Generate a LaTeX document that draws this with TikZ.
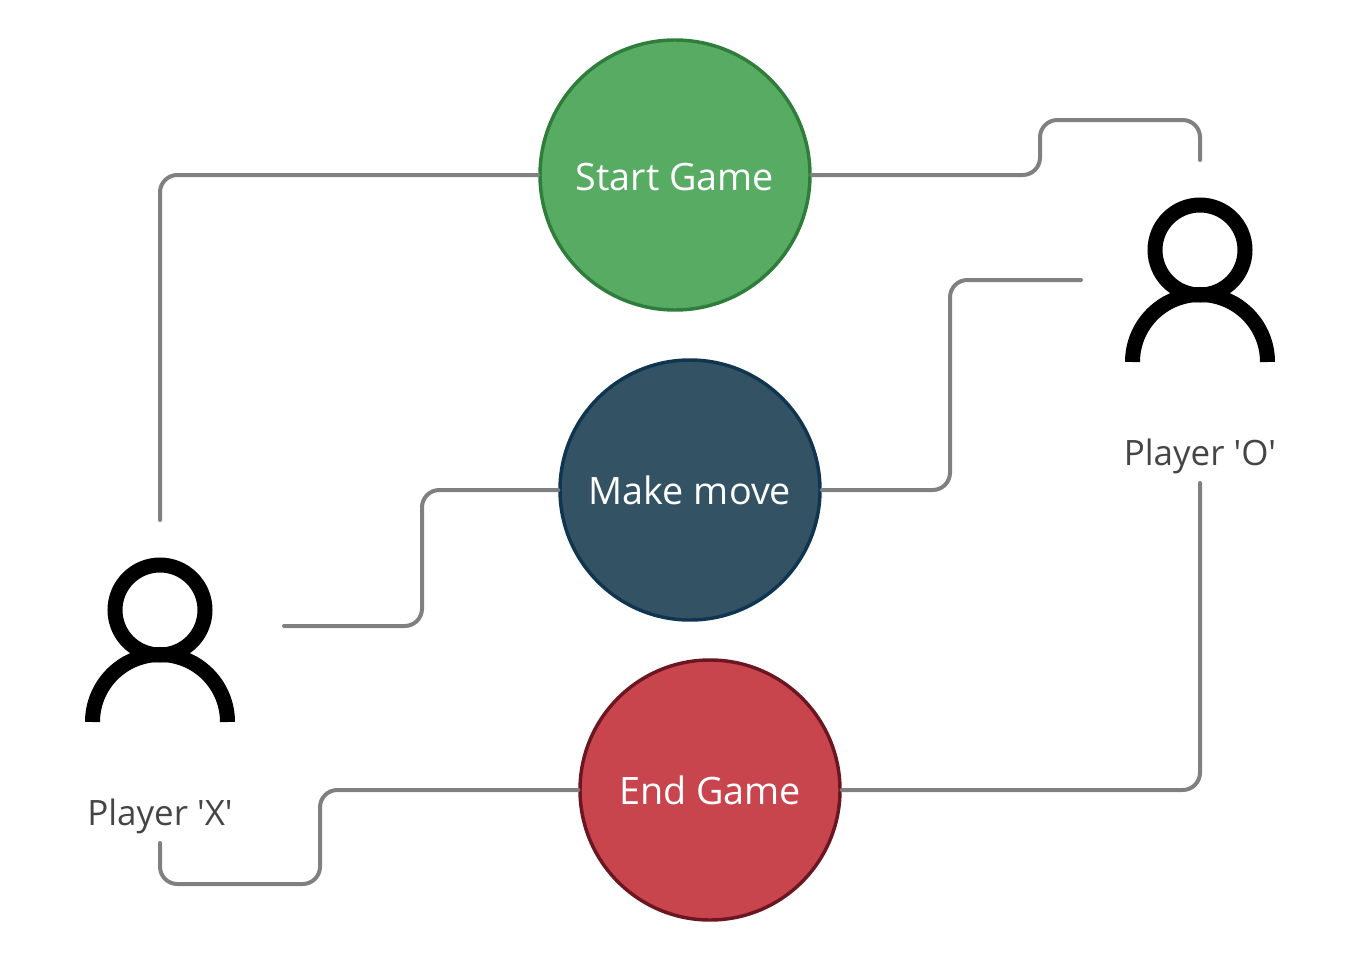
\documentclass[tikz,border=0pt]{standalone}
\usepackage{fontspec}
\setmainfont{Open Sans}
\usetikzlibrary{positioning}
\definecolor{startfill}{HTML}{57AB63}
\definecolor{startline}{HTML}{2F7D3B}
\definecolor{movefill}{HTML}{335364}
\definecolor{moveline}{HTML}{0F3550}
\definecolor{endfill}{HTML}{C9454E}
\definecolor{endline}{HTML}{6B1620}
\definecolor{linkgrey}{HTML}{808080}
\definecolor{namegrey}{HTML}{454545}

\begin{document}
\begin{tikzpicture}[x=0.75pt, y=-0.75pt]%

    \tikzstyle{usecase} = [ circle, line width = 2.6pt, inner sep = 0pt, text = white, font = \fontsize{28.3}{32}\selectfont]
    \tikzstyle{personhead} = [ circle, line width = 11.25pt, draw = black, minimum size = 67.5pt, inner sep = 0pt]
    \tikzstyle{personbody} = [ line width = 11.25pt, draw = black]
    \tikzstyle{playername} = [ text = namegrey, inner sep = 0pt, font = \fontsize{26.2}{30}\selectfont]
    \tikzstyle{link} = [ line width = 3pt, draw = linkgrey, line cap = round, rounded corners = 13pt]

    \useasboundingbox (0,0) rectangle (1360,960);

    %% Use cases
    \node [usecase, draw = startline, fill = startfill, minimum size = 202.5pt, text height = 23.5pt] (start) at (675,175) {Start Game};
    \node [usecase, draw = moveline, fill = movefill, minimum size = 195pt] (move) at (690,490) {Make move};
    \node [usecase, draw = endline, fill = endfill, minimum size = 195pt] (finish) at (710,790) {End Game};

    %% Player X
    \node [personhead] (head_x) at (160,610) {};
    \draw [personbody] (92.5,722) arc (180:360:67.5);
    \node [playername] (name_x) at (160,816) {Player \textquotesingle X\textquotesingle};

    %% Player O
    \node [personhead] (head_o) at (1200,250) {};
    \draw [personbody] (1132.5,362) arc (180:360:67.5);
    \node [playername] (name_o) at (1200,456) {Player \textquotesingle O\textquotesingle};

    %% Free ends
    \coordinate (x_top) at (160,520);
    \coordinate (x_right) at (284,626);
    \coordinate (x_bottom) at (160,843);
    \coordinate (o_top) at (1200,160);
    \coordinate (o_left) at (1081,280);
    \coordinate (o_bottom) at (1200,483);

    %% Connectors
    \draw [link] (start.west) -| (x_top);
    \draw [link] (start.east) -- (1040,175) -- (1040,120) -| (o_top);
    \draw [link] (move.east) -- (950,490) |- (o_left);
    \draw [link] (move.west) -- (422,490) |- (x_right);
    \draw [link] (finish.west) -- (320,790) -- (320,884) -| (x_bottom);
    \draw [link] (finish.east) -| (o_bottom);

\end{tikzpicture}
\end{document}
